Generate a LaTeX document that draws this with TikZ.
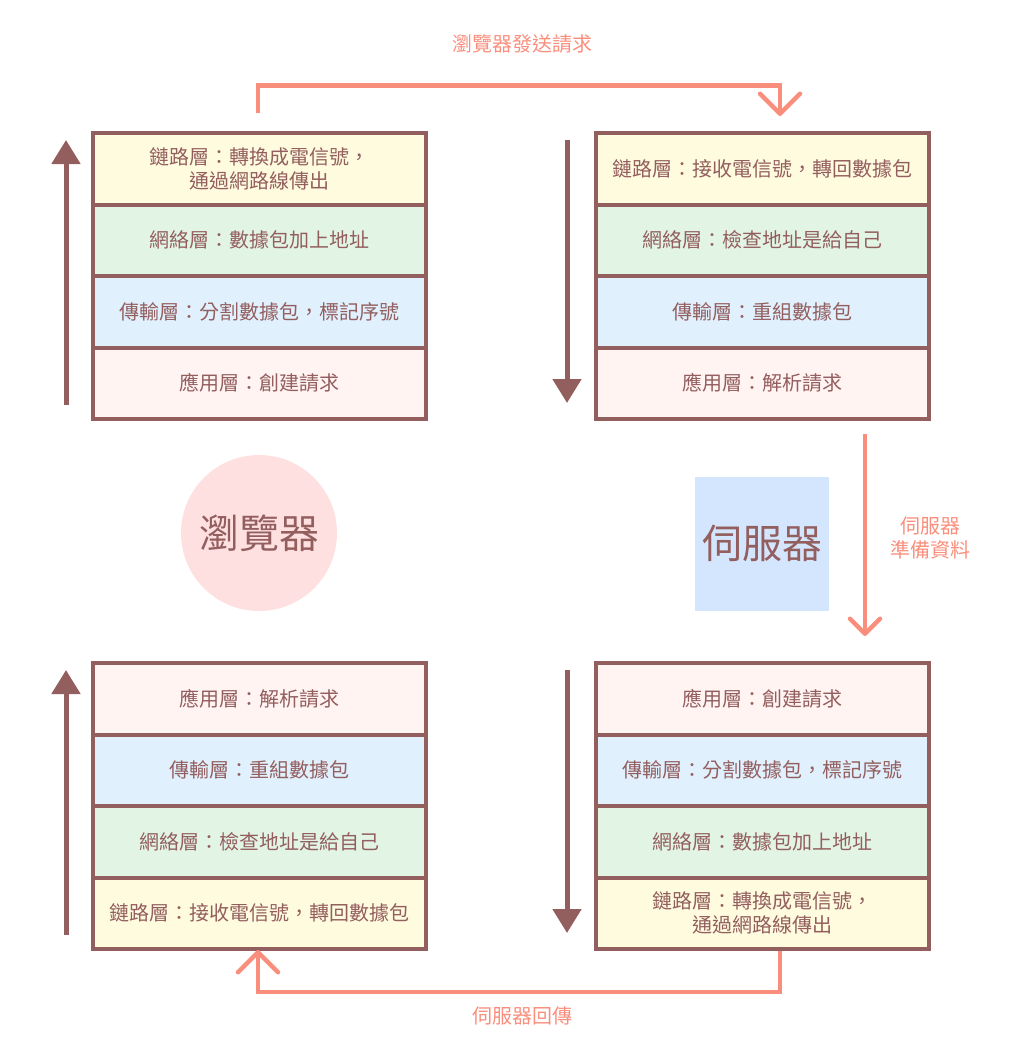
\documentclass[tikz,border=0pt]{standalone}
\usepackage{fontspec}
\newfontfamily\cjk{Noto Sans CJK TC}
\usetikzlibrary{arrows.meta, positioning}
\definecolor{brn}{RGB}{147,94,94}
\definecolor{salmon}{RGB}{250,142,124}
\definecolor{lnkfill}{RGB}{255,251,222}
\definecolor{netfill}{RGB}{226,245,229}
\definecolor{trnfill}{RGB}{224,240,253}
\definecolor{appfill}{RGB}{255,244,242}
\definecolor{cliefill}{RGB}{255,224,225}
\definecolor{servfill}{RGB}{211,230,253}
\tikzset{
  layer/.style={draw=brn, line width=4pt, minimum width=333pt, minimum height=71.5pt,
    inner sep=0pt, outer sep=0pt, text=brn, align=center, font=\cjk\fontsize{20}{24}\selectfont},
  lnk/.style={layer, fill=lnkfill},
  net/.style={layer, fill=netfill},
  trn/.style={layer, fill=trnfill},
  app/.style={layer, fill=appfill},
  flow/.style={draw=brn, line width=5pt, -{Triangle[width=28pt,length=24pt]}},
  msg/.style={draw=salmon, line width=4.5pt, -{Straight Barb[width=40pt,length=20pt,round]}},
  msgtext/.style={text=salmon, align=center, font=\cjk\fontsize{20}{24}\selectfont},
  host/.style={text=brn, font=\cjk\fontsize{40}{44}\selectfont}
}
\begin{document}
\begin{tikzpicture}[x=1pt, y=-1pt]
\useasboundingbox (0,0) rectangle (1032,1053);

\node[lnk] (bs1) at (259.5,168.75) {鏈路層：轉換成電信號，\\通過網路線傳出};
\node[net, below=0pt of bs1] (bs2) {網絡層：數據包加上地址};
\node[trn, below=0pt of bs2] (bs3) {傳輸層：分割數據包，標記序號};
\node[app, below=0pt of bs3] (bs4) {應用層：創建請求};

\node[lnk] (sr1) at (762,168.75) {鏈路層：接收電信號，轉回數據包};
\node[net, below=0pt of sr1] (sr2) {網絡層：檢查地址是給自己};
\node[trn, below=0pt of sr2] (sr3) {傳輸層：重組數據包};
\node[app, below=0pt of sr3] (sr4) {應用層：解析請求};

\node[app] (ss1) at (762,698.75) {應用層：創建請求};
\node[trn, below=0pt of ss1] (ss2) {傳輸層：分割數據包，標記序號};
\node[net, below=0pt of ss2] (ss3) {網絡層：數據包加上地址};
\node[lnk, below=0pt of ss3] (ss4) {鏈路層：轉換成電信號，\\通過網路線傳出};

\node[app] (br1) at (259.5,698.75) {應用層：解析請求};
\node[trn, below=0pt of br1] (br2) {傳輸層：重組數據包};
\node[net, below=0pt of br2] (br3) {網絡層：檢查地址是給自己};
\node[lnk, below=0pt of br3] (br4) {鏈路層：接收電信號，轉回數據包};

\node[circle, fill=cliefill, minimum size=156pt, inner sep=0pt, host] (client) at (259,533) {瀏覽器};
\node[fill=servfill, minimum width=134pt, minimum height=134pt, inner sep=0pt, host] (server) at (762,543.5) {伺服器};

\coordinate (bsup0) at (66,405);
\coordinate (bsup1) at (66,140);
\coordinate (srdn0) at (567,140);
\coordinate (srdn1) at (567,403);
\coordinate (ssdn0) at (567,670);
\coordinate (ssdn1) at (567,933);
\coordinate (brup0) at (66,935);
\coordinate (brup1) at (66,670);
\draw[flow] (bsup0) -- (bsup1);
\draw[flow] (srdn0) -- (srdn1);
\draw[flow] (ssdn0) -- (ssdn1);
\draw[flow] (brup0) -- (brup1);

\coordinate (req0) at (258,113);
\coordinate (req1) at (780,116);
\draw[msg] (req0) |- (req1 |- 0,85.5) -- (req1);
\node[msgtext] (reqlabel) at (522,44) {瀏覽器發送請求};

\coordinate (prep0) at (865,434);
\coordinate (prep1) at (865,636);
\draw[msg, -{Straight Barb[width=30pt,length=15pt,round]}] (prep0) -- (prep1);
\node[msgtext] (preplabel) at (930,538) {伺服器\\準備資料};

\coordinate (resp0) at (780,951);
\coordinate (resp1) at (258,950);
\draw[msg] (resp0) |- (resp1 |- 0,992) -- (resp1);
\node[msgtext] (resplabel) at (522,1016) {伺服器回傳};
\end{tikzpicture}
\end{document}
